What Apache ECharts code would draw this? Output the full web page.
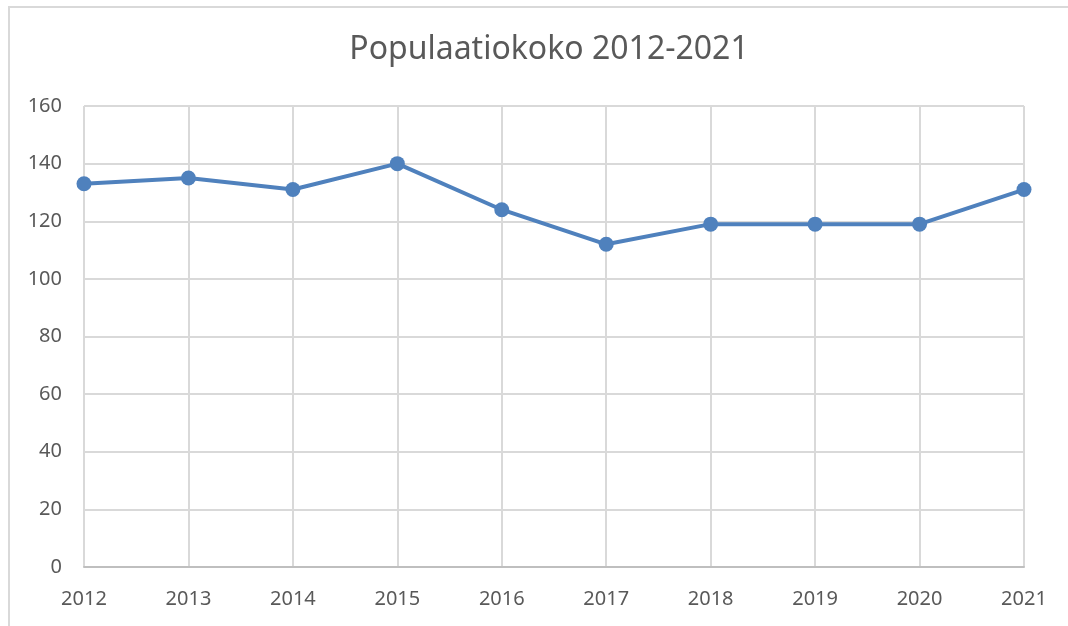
<!DOCTYPE html>
<html>
<head>
<meta charset="utf-8">
<script src="https://cdn.jsdelivr.net/npm/echarts@6/dist/echarts.min.js"></script>
<style>
    html, body { margin: 0; padding: 0; background: #fff; }
    .frame {
        position: absolute;
        left: 8px;
        top: 6px;
        width: 1060px;
        height: 620px;
        border-left: 2px solid #d9d9d9;
        border-top: 2px solid #d9d9d9;
        box-sizing: border-box;
    }
    #chart {
        position: absolute;
        left: 0;
        top: 0;
        width: 1068px;
        height: 626px;
    }
</style>
</head>
<body>
<div class="frame"></div>
<div id="chart"></div>
<script>
// vuodet ja populaatiokoko
const years = ['2012', '2013', '2014', '2015', '2016', '2017', '2018', '2019', '2020', '2021'];
const population = [133, 135, 131, 140, 124, 112, 119, 119, 119, 131];
const yTicks = [0, 20, 40, 60, 80, 100, 120, 140, 160];

const chart = echarts.init(document.getElementById('chart'));

const option = {
    backgroundColor: 'transparent',
    animation: false,
    title: {
        text: 'Populaatiokoko 2012-2021',
        left: 544,
        top: 29,
        textAlign: 'center',
        textStyle: {
            fontFamily: 'Noto Sans',
            fontSize: 32,
            fontWeight: 'normal',
            color: '#595959'
        }
    },
    grid: {
        left: 84,
        right: 44,
        top: 106,
        bottom: 59
    },
    xAxis: {
        type: 'category',
        data: years,
        boundaryGap: false,
        axisLine: { lineStyle: { color: '#bfbfbf', width: 2 } },
        axisTick: { show: false },
        axisLabel: {
            color: '#595959',
            fontFamily: 'Noto Sans',
            fontSize: 20,
            margin: 22
        },
        splitLine: { show: true, lineStyle: { color: '#d9d9d9', width: 2 } }
    },
    yAxis: {
        type: 'value',
        min: yTicks[0],
        max: yTicks[yTicks.length - 1],
        interval: 20,
        axisLine: { show: false },
        axisTick: { show: false },
        axisLabel: {
            color: '#595959',
            fontFamily: 'Noto Sans',
            fontSize: 20,
            margin: 22
        },
        splitLine: { lineStyle: { color: '#d9d9d9', width: 2 } }
    },
    series: [
        {
            name: 'Populaatiokoko',
            type: 'line',
            data: population,
            symbol: 'circle',
            symbolSize: 15,
            lineStyle: { color: '#4f81bd', width: 4 },
            itemStyle: { color: '#4f81bd' }
        }
    ]
};

chart.setOption(option);
</script>
</body>
</html>
